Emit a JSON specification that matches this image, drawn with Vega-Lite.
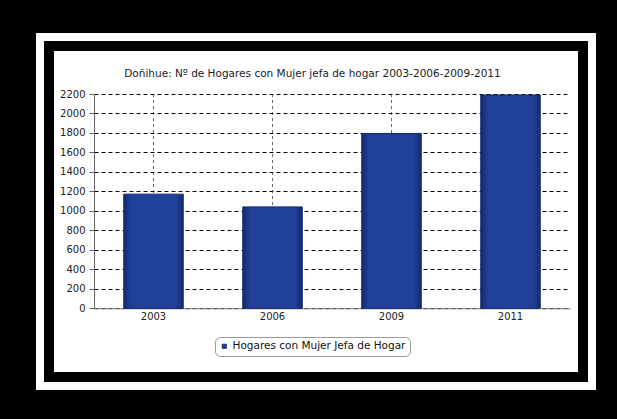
{
  "$schema": "https://vega.github.io/schema/vega-lite/v6.json",
  "width": 552,
  "height": 349,
  "autosize": {"type": "none"},
  "padding": {"left": 40, "top": 37, "right": 25, "bottom": 33},
  "background": "black",
  "view": {"fill": "white", "stroke": null},
  "config": {
    "view": {"fill": "white", "stroke": null},
    "font": "DejaVu Sans"
  },
  "title": {
    "text": "Doñihue: Nº de Hogares con Mujer jefa de hogar 2003-2006-2009-2011",
    "font": "DejaVu Sans",
    "fontSize": 10.5,
    "fontWeight": "normal",
    "color": "#222222",
    "anchor": "middle",
    "frame": "group",
    "offset": -56.5,
    "dx": -3.5
  },
  "resolve": {"scale": {"x": "independent", "y": "independent"}},
  "layer": [
    {
      "data": {
        "values": [
          {"anio": "2003", "hogares": 1172},
          {"anio": "2006", "hogares": 1041},
          {"anio": "2009", "hogares": 1795},
          {"anio": "2011", "hogares": 2190}
        ]
      },
      "layer": [
        {
          "mark": {"type": "rule", "strokeDash": [3, 3], "color": "#444444", "strokeWidth": 0.8},
          "encoding": {
            "x": {
              "field": "anio",
              "type": "ordinal",
              "scale": {"type": "band", "range": [54, 530], "paddingInner": 0.5, "paddingOuter": 0.25},
              "axis": {
                "title": null,
                "orient": "bottom",
                "offset": -77.7,
                "bandPosition": 0.5,
                "labelAngle": 0,
                "ticks": false,
                "labelPadding": 3,
                "labelFont": "DejaVu Sans",
                "labelFontSize": 10,
                "labelColor": "#222222",
                "domainColor": "#777777",
                "grid": false
              }
            },
            "y": {
              "datum": 2200,
              "type": "quantitative",
              "scale": {"domain": [0, 2200], "range": [271.3, 57], "nice": false, "zero": true},
              "axis": {
                "title": null,
                "orient": "left",
                "offset": -54,
                "format": "d",
                "values": [0, 200, 400, 600, 800, 1000, 1200, 1400, 1600, 1800, 2000, 2200],
                "tickSize": 5,
                "tickColor": "#666666",
                "domainColor": "#666666",
                "labelPadding": 4,
                "labelFont": "DejaVu Sans",
                "labelFontSize": 10,
                "labelColor": "#222222",
                "grid": true,
                "gridDash": [4, 3],
                "gridColor": "#000000",
                "gridWidth": 1
              }
            },
            "y2": {"datum": 0}
          }
        },
        {
          "mark": {
            "type": "bar",
            "strokeWidth": 1,
            "fill": {
              "gradient": "linear",
              "x1": 0, "x2": 1, "y1": 0, "y2": 0,
              "stops": [
                {"offset": 0, "color": "#142a6a"},
                {"offset": 0.12, "color": "#21409a"},
                {"offset": 0.88, "color": "#21409a"},
                {"offset": 1, "color": "#142a6a"}
              ]
            }
          },
          "encoding": {
            "x": {
              "field": "anio",
              "type": "ordinal",
              "scale": {"type": "band", "range": [54, 530], "paddingInner": 0.5, "paddingOuter": 0.25},
              "axis": {
                "title": null,
                "orient": "bottom",
                "offset": -77.7,
                "bandPosition": 0.5,
                "labelAngle": 0,
                "ticks": false,
                "labelPadding": 3,
                "labelFont": "DejaVu Sans",
                "labelFontSize": 10,
                "labelColor": "#222222",
                "domainColor": "#777777",
                "grid": false
              }
            },
            "y": {
              "field": "hogares",
              "type": "quantitative",
              "scale": {"domain": [0, 2200], "range": [271.3, 57], "nice": false, "zero": true},
              "axis": {
                "title": null,
                "orient": "left",
                "offset": -54,
                "format": "d",
                "values": [0, 200, 400, 600, 800, 1000, 1200, 1400, 1600, 1800, 2000, 2200],
                "tickSize": 5,
                "tickColor": "#666666",
                "domainColor": "#666666",
                "labelPadding": 4,
                "labelFont": "DejaVu Sans",
                "labelFontSize": 10,
                "labelColor": "#222222",
                "grid": true,
                "gridDash": [4, 3],
                "gridColor": "#000000",
                "gridWidth": 1
              }
            },
            "stroke": {
              "datum": "Hogares con Mujer Jefa de Hogar",
              "type": "nominal",
              "scale": {"range": ["#16296b"]},
              "legend": {
                "title": null,
                "orient": "none",
                "legendX": 175,
                "legendY": 300,
                "symbolType": "square",
                "symbolSize": 16,
                "symbolFillColor": "#0d1f5c",
                "symbolStrokeWidth": 1,
                "labelFont": "DejaVu Sans",
                "labelFontSize": 10.5,
                "labelColor": "#111111",
                "labelOffset": 3,
                "labelLimit": 400,
                "padding": 4,
                "strokeColor": "#999999",
                "cornerRadius": 5,
                "fillColor": "white"
              }
            }
          }
        }
      ]
    },
    {
      "data": {"values": [{"marco": "exterior"}]},
      "mark": {"type": "rect", "filled": false, "stroke": "black", "strokeWidth": 28},
      "encoding": {}
    },
    {
      "data": {"values": [{"marco": "banda"}]},
      "mark": {"type": "rect", "filled": false, "stroke": "white", "strokeWidth": 8},
      "encoding": {}
    }
  ]
}
